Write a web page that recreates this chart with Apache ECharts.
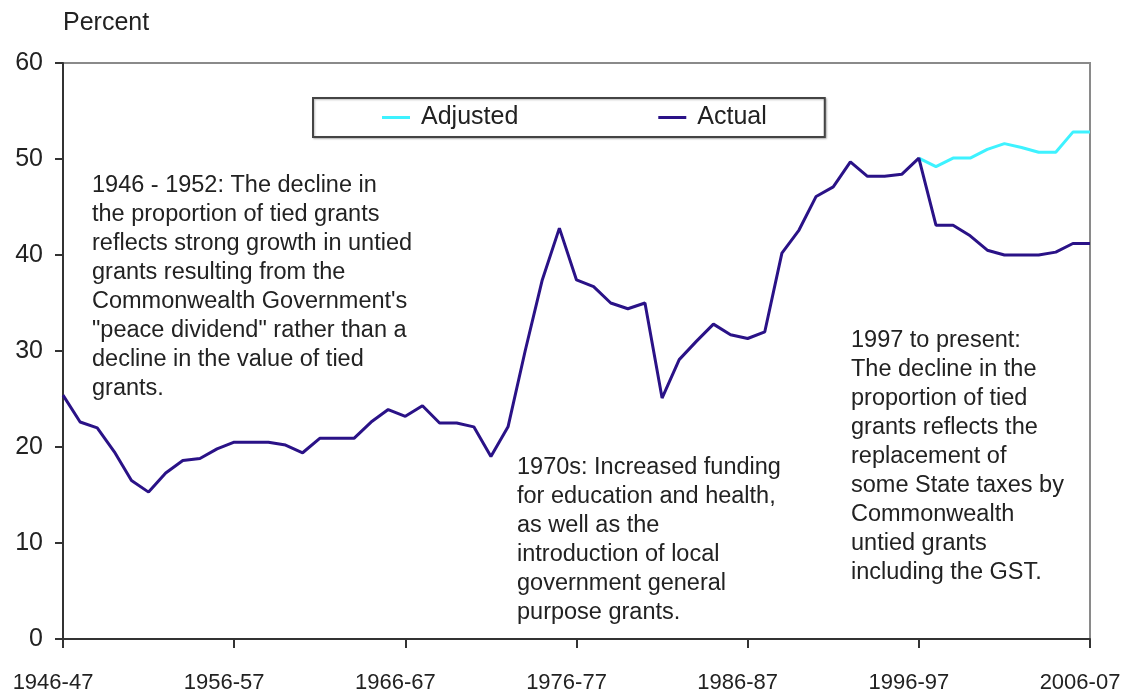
<!DOCTYPE html>
<html>
<head>
<meta charset="utf-8">
<script src="https://cdn.jsdelivr.net/npm/echarts@6/dist/echarts.min.js"></script>
<style>
  html, body { margin: 0; padding: 0; background: #fff; }
  #chart { width: 1147px; height: 698px; }
</style>
</head>
<body>
<div id="chart"></div>
<script>
// years 1946-47 .. 2006-07
var years = [];
for (var y = 1946; y <= 2006; y++) {
    years.push(y + '-' + String((y + 1) % 100).padStart(2, '0'));
}

// tied grants as a share of total grants, percent
var actual = [
    25.4, 22.6, 22.0, 19.5, 16.5, 15.3, 17.3, 18.6, 18.8, 19.8,
    20.5, 20.5, 20.5, 20.2, 19.4, 20.9, 20.9, 20.9, 22.6, 23.9,
    23.2, 24.3, 22.5, 22.5, 22.1, 19.0, 22.1, 30.0, 37.4, 42.8,
    37.4, 36.7, 35.0, 34.4, 35.0, 25.1, 29.1, 31.0, 32.8, 31.7,
    31.3, 32.0, 40.2, 42.6, 46.1, 47.1, 49.7, 48.2, 48.2, 48.4,
    50.1, 43.1, 43.1, 42.0, 40.5, 40.0, 40.0, 40.0, 40.3, 41.2,
    41.2
];
var adjustedYears = ['1996-97', '1997-98', '1998-99', '1999-00', '2000-01', '2001-02',
    '2002-03', '2003-04', '2004-05', '2005-06', '2006-07'];
var adjustedValues = [50.1, 49.2, 50.1, 50.1, 51.0, 51.6, 51.2, 50.7, 50.7, 52.8, 52.8];

var yTicks = [0, 10, 20, 30, 40, 50, 60];

var note1 = '1946 - 1952: The decline in\nthe proportion of tied grants\nreflects strong growth in untied\ngrants resulting from the\nCommonwealth Government\'s\n"peace dividend" rather than a\ndecline in the value of tied\ngrants.';
var note2 = '1970s: Increased funding\nfor education and health,\nas well as the\nintroduction of local\ngovernment general\npurpose grants.';
var note3 = '1997 to present:\nThe decline in the\nproportion of tied\ngrants reflects the\nreplacement of\nsome State taxes by\nCommonwealth\nuntied grants\nincluding the GST.';

var FONT = '"Liberation Sans", Arial, sans-serif';
var TXT = '#222';

function note(x, y, text) {
    return {
        type: 'text', left: x, top: y, silent: true,
        style: { text: text, font: '23.5px ' + FONT, fill: TXT, lineHeight: 29 }
    };
}

var chart = echarts.init(document.getElementById('chart'));
var option = {
    animation: false,
    backgroundColor: '#fff',
    grid: {
        left: 63, right: 57, top: 63, bottom: 59,
        show: true, borderColor: '#8a8a8a', borderWidth: 2
    },
    legend: {
        left: 313, top: 98,
        data: ['Adjusted', 'Actual'],
        icon: 'rect', itemWidth: 28, itemHeight: 3, itemGap: 140,
        padding: [7, 58, 7, 69],
        borderColor: '#444', borderWidth: 2, backgroundColor: '#fff',
        shadowColor: 'rgba(0,0,0,0.25)', shadowBlur: 2, shadowOffsetX: 1, shadowOffsetY: 1,
        textStyle: { fontFamily: FONT, fontSize: 25, color: TXT, padding: [0, 0, 0, 6] }
    },
    xAxis: {
        type: 'category', data: years, boundaryGap: false,
        axisLine: { lineStyle: { color: '#333', width: 2 } },
        axisTick: { interval: 9, length: 9, lineStyle: { color: '#333', width: 2 } },
        axisLabel: {
            interval: 9, margin: 33, fontFamily: FONT, fontSize: 22, color: TXT,
            padding: [0, 20, 0, 0], showMinLabel: true, showMaxLabel: true
        },
        splitLine: { show: false }
    },
    yAxis: {
        type: 'value', min: yTicks[0], max: yTicks[yTicks.length - 1], interval: 10,
        axisLine: { show: true, lineStyle: { color: '#333', width: 2 } },
        axisTick: { show: true, length: 8, lineStyle: { color: '#333', width: 2 } },
        axisLabel: { margin: 20, fontFamily: FONT, fontSize: 25, color: TXT },
        splitLine: { show: false }
    },
    graphic: [
        { type: 'text', left: 63, top: 11, silent: true,
          style: { text: 'Percent', font: '25px ' + FONT, fill: TXT } },
        note(92, 171, note1),
        note(517, 453, note2),
        note(851, 326, note3)
    ],
    series: [
        {
            name: 'Adjusted', type: 'line', showSymbol: false,
            data: adjustedYears.map(function (yr, i) { return [yr, adjustedValues[i]]; }),
            lineStyle: { color: '#3ef2ff', width: 3 }, itemStyle: { color: '#3ef2ff' }
        },
        {
            name: 'Actual', type: 'line', showSymbol: false, data: actual,
            lineStyle: { color: '#2a1287', width: 3 }, itemStyle: { color: '#2a1287' }
        }
    ]
};
chart.setOption(option);
</script>
</body>
</html>
